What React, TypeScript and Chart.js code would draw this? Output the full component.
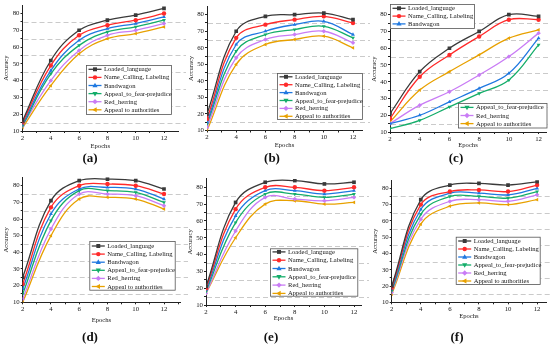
import React, { useEffect, useRef } from 'react';
import { Chart, registerables } from 'chart.js';
Chart.register(...registerables);

const FONT = "'Liberation Serif', 'Times New Roman', serif";
Chart.defaults.font.family = FONT;

// ---------- data ----------
const epochs = [2, 4, 6, 8, 10, 12];
const seriesNames = [
  'Loaded_language',
  'Name_Calling, Labeling',
  'Bandwagon',
  'Appeal_to_fear-prejudice',
  'Red_herring',
  'Appeal to authorities',
];
const captions = ['(a)', '(b)', '(c)', '(d)', '(e)', '(f)'];
const xAxisTitle = 'Epochs';
const yAxisTitle = 'Accuracy';
const gridLevels = [15, 25, 35, 45, 55, 65, 75];

const accA = [
  [16, 52, 70, 76, 79, 83],
  [15, 49, 67, 73, 76, 80],
  [14, 46, 64, 71, 74, 78],
  [13, 44, 61, 69, 72, 76],
  [13, 40, 58, 67, 70, 74],
  [12, 37, 56, 65, 68, 72],
];
const accB = [
  [20, 70, 79, 80, 81, 77],
  [17, 66, 74, 77, 79, 75],
  [15, 62, 70, 74, 76, 68],
  [14, 58, 68, 71, 73, 66],
  [12, 54, 65, 68, 70, 63],
  [10, 50, 62, 65, 67, 60],
];
const accC = [
  [21, 46, 60, 70, 80, 79],
  [18, 43, 56, 67, 77, 77],
  [15, 20, 28, 36, 45, 66],
  [12, 17, 25, 33, 41, 62],
  [15, 26, 34, 44, 55, 69],
  [16, 35, 46, 56, 66, 71],
];
const accD = [
  [25, 71, 83, 84, 83, 78],
  [21, 67, 80, 81, 80, 75],
  [18, 63, 78, 79, 78, 72],
  [15, 59, 77, 77, 76, 70],
  [12, 54, 75, 75, 74, 68],
  [10, 50, 72, 73, 72, 66],
];
const accE = [
  [21, 71, 83, 84, 82, 83],
  [20, 67, 80, 80, 78, 80],
  [19, 63, 78, 78, 76, 78],
  [18, 59, 76, 76, 74, 76],
  [17, 54, 74, 73, 72, 74],
  [17, 50, 70, 72, 70, 71],
];
const accF = [
  [20, 73, 82, 83, 82, 84],
  [19, 70, 78, 79, 78, 82],
  [18, 67, 77, 77, 76, 80],
  [17, 64, 75, 75, 74, 78],
  [16, 61, 72, 73, 72, 76],
  [15, 58, 69, 71, 70, 73],
];

// ---------- styles ----------
const colors = ['#3a3a3a', '#ff2a2a', '#1f78e0', '#14ad6a', '#c97cf5', '#e8a100'];
const markers = [
  { style: 'rect', rot: 0 },
  { style: 'circle', rot: 0 },
  { style: 'triangle', rot: 0 },
  { style: 'triangle', rot: 180 },
  { style: 'rectRot', rot: 0 },
  { style: 'triangle', rot: 270 },
];

const YW = 20;

const panels = [
  {
    data: accA, left: 22.5, x12: 164, right: 178, y80: 13, y10: 131, xH: 19,
    legends: [{ x: 86, y: 65, w: 86, h: 50, first: 4.3, step: 8.1, items: [0, 1, 2, 3, 4, 5] }],
    cap: { x: 90, y: 158 },
  },
  {
    data: accB, left: 207, x12: 353, right: 362, y80: 14.7, y10: 130.5, xH: 19,
    legends: [{ x: 277, y: 73, w: 86, h: 47, first: 3.8, step: 7.9, items: [0, 1, 2, 3, 4, 5] }],
    cap: { x: 272, y: 158 },
  },
  {
    data: accC, left: 390, x12: 540.5, right: 548, y80: 14.7, y10: 132, xH: 17.6,
    legends: [
      { x: 390, y: 4, w: 85, h: 25, first: 4.3, step: 7.8, items: [0, 1, 2] },
      { x: 458, y: 103, w: 89.5, h: 25.5, first: 4.4, step: 8.1, items: [3, 4, 5] },
    ],
    cap: { x: 456, y: 158 },
  },
  {
    data: accD, left: 22.7, x12: 164, right: 180, y80: 185.7, y10: 302.3, xH: 22.3,
    legends: [{ x: 89.3, y: 241, w: 86.4, h: 49.7, first: 5, step: 8.1, items: [0, 1, 2, 3, 4, 5] }],
    cap: { x: 90, y: 337 },
  },
  {
    data: accE, left: 206, x12: 354, right: 361, y80: 187.3, y10: 305, xH: 17.5,
    legends: [{ x: 270, y: 248.3, w: 88.3, h: 48.4, first: 3.6, step: 8.3, items: [0, 1, 2, 3, 4, 5] }],
    cap: { x: 271, y: 337 },
  },
  {
    data: accF, left: 391.7, x12: 539, right: 548, y80: 188.3, y10: 302.3, xH: 17.5,
    legends: [{ x: 455.7, y: 236.7, w: 85, h: 48.3, first: 4.3, step: 8, items: [0, 1, 2, 3, 4, 5] }],
    cap: { x: 457, y: 337 },
  },
];

function drawMarker(ctx: CanvasRenderingContext2D, m: any, x: number, y: number, r: number, color: string) {
  ctx.save();
  ctx.translate(x, y);
  ctx.rotate((m.rot * Math.PI) / 180);
  ctx.fillStyle = color;
  ctx.strokeStyle = color;
  ctx.beginPath();
  if (m.style === 'rect') {
    const s = r * 0.9;
    ctx.rect(-s, -s, 2 * s, 2 * s);
  } else if (m.style === 'circle') {
    ctx.arc(0, 0, r, 0, Math.PI * 2);
  } else if (m.style === 'rectRot') {
    ctx.moveTo(0, -r * 1.2);
    ctx.lineTo(r * 1.2, 0);
    ctx.lineTo(0, r * 1.2);
    ctx.lineTo(-r * 1.2, 0);
    ctx.closePath();
  } else {
    const s = r * 1.3;
    ctx.moveTo(0, -s);
    ctx.lineTo(s * 0.9, s * 0.6);
    ctx.lineTo(-s * 0.9, s * 0.6);
    ctx.closePath();
  }
  ctx.fill();
  ctx.restore();
}

function buildConfig(p: any) {
  const top85 = p.y10 - (75 * (p.y10 - p.y80)) / 70;
  const xmax = 2 + (10 * (p.right - p.left)) / (p.x12 - p.left);

  const gridPlugin = {
    id: 'dashGrid',
    beforeDatasetsDraw(chart: any) {
      const { ctx, chartArea } = chart;
      const ys = chart.scales.y;
      ctx.save();
      ctx.strokeStyle = '#c4c4c4';
      ctx.lineWidth = 0.9;
      ctx.setLineDash([5, 3]);
      gridLevels.forEach((v) => {
        const y = Math.round(ys.getPixelForValue(v)) + 0.5;
        ctx.beginPath();
        ctx.moveTo(chartArea.left + 1, y);
        ctx.lineTo(Math.min(chartArea.right + 8, 550), y);
        ctx.stroke();
      });
      ctx.restore();
    },
  };

  const legendPlugin = {
    id: 'boxLegend',
    afterDraw(chart: any) {
      const ctx = chart.ctx as CanvasRenderingContext2D;
      p.legends.forEach((g: any) => {
        ctx.save();
        ctx.fillStyle = '#ffffff';
        ctx.fillRect(g.x, g.y, g.w, g.h);
        ctx.strokeStyle = '#555';
        ctx.lineWidth = 0.8;
        ctx.strokeRect(g.x + 0.5, g.y + 0.5, g.w - 1, g.h - 1);
        g.items.forEach((idx: number, i: number) => {
          const cy = g.y + g.first + i * g.step;
          const x0 = g.x + 2.5;
          ctx.strokeStyle = colors[idx];
          ctx.lineWidth = 1.3;
          ctx.beginPath();
          ctx.moveTo(x0, cy);
          ctx.lineTo(x0 + 13, cy);
          ctx.stroke();
          drawMarker(ctx, markers[idx], x0 + 6.5, cy, 2.2, colors[idx]);
          ctx.fillStyle = '#151515';
          ctx.font = `6.6px ${FONT}`;
          ctx.textBaseline = 'middle';
          ctx.textAlign = 'left';
          ctx.fillText(seriesNames[idx], x0 + 15.5, cy + 0.3);
        });
        ctx.restore();
      });
    },
  };

  return {
    type: 'line' as const,
    data: {
      labels: epochs,
      datasets: p.data.map((vals: number[], i: number) => ({
        label: seriesNames[i],
        data: epochs.map((e, j) => ({ x: e, y: vals[j] })),
        borderColor: colors[i],
        backgroundColor: colors[i],
        borderWidth: 1.3,
        pointStyle: markers[i].style,
        pointRotation: markers[i].rot,
        pointRadius: markers[i].style === 'rect' ? 2.6 : 2.2,
        pointBorderWidth: 0,
        tension: 0.4,
        fill: false,
      })),
    },
    options: {
      animation: false,
      responsive: false,
      devicePixelRatio: 1,
      events: [],
      layout: {
        padding: {
          left: p.left - YW,
          right: 550 - p.right,
          top: top85,
          bottom: 349 - p.y10 - p.xH,
        },
      },
      plugins: { legend: { display: false }, tooltip: { enabled: false }, title: { display: false } },
      scales: {
        x: {
          type: 'linear',
          min: 2,
          max: xmax,
          afterFit: (s: any) => { s.height = p.xH; },
          afterBuildTicks: (s: any) => {
            const t: any[] = [];
            for (let v = 2; v <= s.max + 1e-9; v++) t.push({ value: v });
            s.ticks = t;
          },
          ticks: {
            autoSkip: false,
            maxRotation: 0,
            padding: 1,
            color: '#151515',
            font: { size: 6.8, family: FONT },
            callback: (v: any) => (v % 2 === 0 ? String(v) : ''),
          },
          grid: { drawOnChartArea: false, drawTicks: true, tickLength: 2, color: '#222' },
          border: { color: '#222', width: 1 },
          title: { display: true, text: xAxisTitle, padding: 0, color: '#151515', font: { size: 6.6, family: FONT } },
        },
        y: {
          type: 'linear',
          min: 10,
          max: 85,
          afterFit: (s: any) => { s.width = YW; },
          afterBuildTicks: (s: any) => {
            const t: any[] = [];
            for (let v = 10; v <= 80; v += 5) t.push({ value: v });
            s.ticks = t;
          },
          ticks: {
            autoSkip: false,
            padding: 1,
            color: '#151515',
            font: { size: 6.8, family: FONT },
            callback: (v: any) => (v % 10 === 0 ? String(v) : ''),
          },
          grid: { drawOnChartArea: false, drawTicks: true, tickLength: 2, color: '#222' },
          border: { color: '#222', width: 1 },
          title: { display: true, text: yAxisTitle, padding: 0, color: '#151515', font: { size: 6.6, family: FONT } },
        },
      },
    },
    plugins: [gridPlugin, legendPlugin],
  };
}

function Panel({ cfg }: { cfg: any }) {
  const ref = useRef<HTMLCanvasElement | null>(null);
  useEffect(() => {
    if (!ref.current) return;
    const chart = new Chart(ref.current, buildConfig(cfg) as any);
    return () => chart.destroy();
  }, [cfg]);
  return (
    <canvas
      ref={ref}
      width={550}
      height={349}
      style={{ position: 'absolute', left: 0, top: 0, width: 550, height: 349 }}
    />
  );
}

export default function App() {
  return (
    <div style={{ position: 'absolute', left: 0, top: 0, width: 550, height: 349, background: '#fff', overflow: 'hidden' }}>
      {panels.map((p, i) => (
        <Panel key={i} cfg={p} />
      ))}
      {panels.map((p, i) => (
        <div
          key={'c' + i}
          style={{
            position: 'absolute',
            left: p.cap.x,
            top: p.cap.y,
            transform: 'translate(-50%, -50%)',
            fontFamily: FONT,
            fontWeight: 'bold',
            fontSize: 13,
            color: '#111',
            whiteSpace: 'nowrap',
          }}
        >
          {captions[i]}
        </div>
      ))}
    </div>
  );
}
